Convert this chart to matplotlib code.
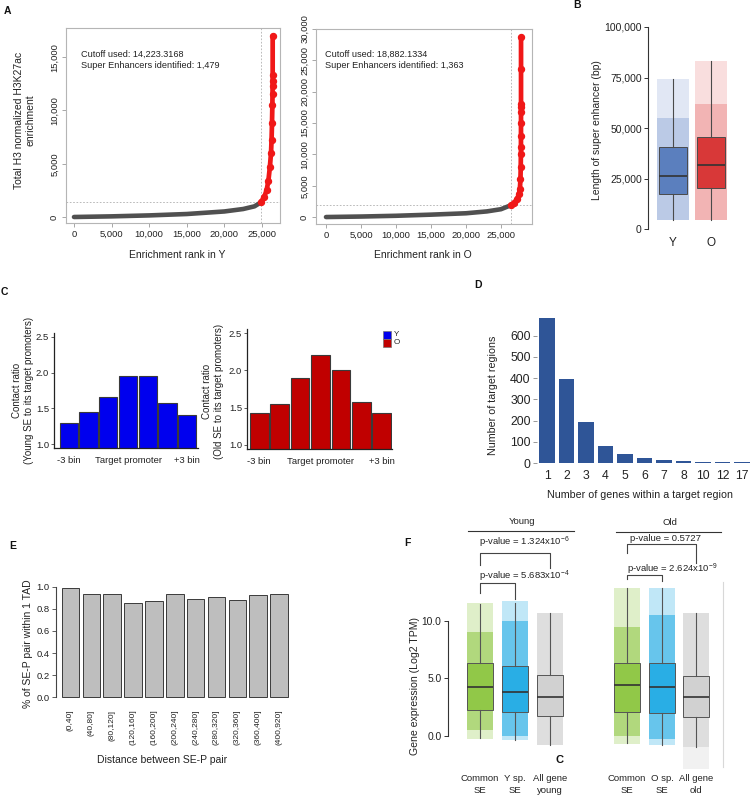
import matplotlib
matplotlib.use("Agg")
import matplotlib.pyplot as plt
from matplotlib.patches import Rectangle
from matplotlib.lines import Line2D
from matplotlib.ticker import FuncFormatter
from matplotlib.colors import to_rgba

plt.rcParams['font.family'] = ['Liberation Sans', 'DejaVu Sans']
plt.rcParams['mathtext.fontset'] = 'custom'
plt.rcParams['mathtext.rm'] = 'Liberation Sans'
plt.rcParams['mathtext.it'] = 'Liberation Sans:italic'
plt.rcParams['mathtext.bf'] = 'Liberation Sans:bold'

# ------------------------------------------------------------------ data
# Panel A (hockey-stick curves)
a_y_gray_rank = [0, 5000, 10000, 15000, 20000, 22500, 24000, 24870]
a_y_gray_val = [0, 60, 150, 280, 520, 750, 1000, 1380]
a_y_red_rank = [24870, 25300, 25610, 25850, 26050, 26200, 26270, 26330, 26380,
                26400, 26410, 26415, 26418, 26420]
a_y_red_val = [1420, 1900, 2500, 3400, 4700, 6000, 7200, 8800, 10500,
               11500, 12300, 12800, 13300, 17000]
a_y_cut_rank, a_y_cut_val = 24870, 1422
a_y_text = "Cutoff used: 14,223.3168\nSuper Enhancers identified: 1,479"

a_o_gray_rank = [0, 5000, 10000, 15000, 20000, 23000, 25000, 26430]
a_o_gray_val = [0, 80, 200, 380, 600, 900, 1250, 1890]
a_o_red_rank = [26430, 26900, 27300, 27550, 27700, 27780, 27820, 27840, 27850,
                27855, 27858, 27860, 27861, 27862, 27863, 27864]
a_o_red_val = [1890, 2300, 2900, 3600, 4500, 6000, 8000, 10000, 11100,
               13000, 15000, 16700, 17500, 18100, 23600, 28700]
a_o_cut_rank, a_o_cut_val = 26430, 1888
a_o_text = "Cutoff used: 18,882.1334\nSuper Enhancers identified: 1,363"

# Panel B (box summaries and point-cloud extent)
b_groups = ["Y", "O"]
b_q1 = [17300, 20300]
b_med = [26200, 31700]
b_q3 = [40600, 45500]
b_lo = [4300, 4500]
b_hi = [74500, 83000]
b_dense_hi = [55000, 62000]

# Panel C (contact ratio)
c_young = [1.30, 1.455, 1.665, 1.96, 1.95, 1.575, 1.40]
c_old = [1.425, 1.55, 1.90, 2.21, 2.00, 1.57, 1.43]
c_xlabels = ["-3 bin", "Target promoter", "+3 bin"]
c_legend = ["Y", "O"]

# Panel D
d_genes = ["1", "2", "3", "4", "5", "6", "7", "8", "10", "12", "17"]
d_counts = [684, 397, 192, 80, 41, 22, 13, 8, 5, 3, 3]

# Panel E
e_bins = ["(0,40]", "(40,80]", "(80,120]", "(120,160]", "(160,200]", "(200,240]",
          "(240,280]", "(280,320]", "(320,360]", "(360,400]", "(400,920]"]
e_frac = [0.985, 0.93, 0.93, 0.85, 0.873, 0.93, 0.889, 0.904, 0.88, 0.922, 0.937]

# Panel F
f_labels = ["Common\nSE", "Y sp.\nSE", "All gene\nyoung",
            "Common\nSE", "O sp.\nSE", "All gene\nold"]
f_q1 = [2.24, 2.07, 1.72, 2.10, 1.95, 1.63]
f_med = [4.28, 3.81, 3.40, 4.40, 4.28, 3.35]
f_q3 = [6.32, 6.11, 5.32, 6.37, 6.32, 5.24]
f_whislo = [-0.23, -0.37, -0.81, -0.66, -0.81, -0.96]
f_whishi = [11.5, 11.55, 10.68, 12.86, 12.86, 10.68]
f_cloud_lo = [-0.25, -0.4, -0.85, -0.7, -0.8, -2.9]
f_cloud_dlo = [0.5, 0.0, -0.85, 0.0, -0.3, -1.0]
f_cloud_dhi = [9.0, 10.0, 10.7, 9.5, 10.5, 10.7]
f_cloud_hi = [11.6, 11.7, 10.7, 12.9, 12.9, 10.7]
f_pvals = ["p-value = 1.324x10$^{-6}$", "p-value = 5.683x10$^{-4}$",
           "p-value = 0.5727", "p-value = 2.624x10$^{-9}$"]
f_groups = ["Young", "Old"]

# ------------------------------------------------------------------ figure
W, H = 750, 795
fig = plt.figure(figsize=(7.5, 7.95), dpi=100)


def fx(x):
    return x / W


def fy(y):
    return 1 - y / H


def add_ax(x0, y0, x1, y1):
    return fig.add_axes([fx(x0), fy(y1), (x1 - x0) / W, (y1 - y0) / H])


def ftext(x, y, s, **kw):
    kw.setdefault('ha', 'center')
    kw.setdefault('va', 'center')
    fig.text(fx(x), fy(y), s, **kw)


comma = FuncFormatter(lambda v, p: f"{v:,.0f}")

# ------------------------------------------------------------------ panel A
def panel_a(ax, gr, gv, rr, rv, crank, cval, xlim, ylim, yticks):
    ax.set_xlim(*xlim)
    ax.set_ylim(*ylim)
    ax.axhline(cval, color='#b0b0b0', lw=0.6, ls=(0, (2, 2)), zorder=1)
    ax.axvline(crank, color='#b0b0b0', lw=0.6, ls=(0, (2, 2)), zorder=1)
    ax.plot(gr, gv, color='#505050', lw=3.3, solid_capstyle='round',
            solid_joinstyle='round', zorder=2)
    ax.plot(rr, rv, color='#f01818', lw=3.4, solid_capstyle='round',
            solid_joinstyle='round', zorder=3)
    ax.plot(rr, rv, ls='none', marker='o', ms=4.3,
            mec='#f01818', mfc='#f01818', zorder=3)
    ax.set_xticks([0, 5000, 10000, 15000, 20000, 25000])
    ax.set_yticks(yticks)
    ax.xaxis.set_major_formatter(comma)
    ax.yaxis.set_major_formatter(comma)
    for s in ax.spines.values():
        s.set_color('#b5b5b5')
        s.set_linewidth(0.8)
    ax.tick_params(direction='out', length=3, width=0.6, color='#999999',
                   labelsize=6.8, labelcolor='#222222', pad=2)
    for t in ax.get_yticklabels():
        t.set_rotation(90)
        t.set_va('center')


axA1 = add_ax(66, 28, 280, 223)
panel_a(axA1, a_y_gray_rank, a_y_gray_val, a_y_red_rank, a_y_red_val,
        a_y_cut_rank, a_y_cut_val, (-1064, 27394), (-563, 17730),
        [0, 5000, 10000, 15000])
axA2 = add_ax(316, 29, 532, 224)
panel_a(axA2, a_o_gray_rank, a_o_gray_val, a_o_red_rank, a_o_red_val,
        a_o_cut_rank, a_o_cut_val, (-1430, 29430), (-1111, 29841),
        [0, 5000, 10000, 15000, 20000, 25000, 30000])

ftext(81, 60, a_y_text, ha='left', fontsize=6.6, linespacing=1.35, color='#222')
ftext(325, 60, a_o_text, ha='left', fontsize=6.6, linespacing=1.35, color='#222')
ftext(177, 255, "Enrichment rank in Y", fontsize=7.5, color='#222')
ftext(423, 255, "Enrichment rank in O", fontsize=7.5, color='#222')
ftext(25, 120, "Total H3 normalized H3K27ac\nenrichment", rotation=90,
      fontsize=7.5, linespacing=1.15, color='#222')

# ------------------------------------------------------------------ panel B
axB = add_ax(648, 27, 735, 229)
axB.set_xlim(0.34, 2.63)
axB.set_ylim(0, 100000)
b_cols = ['#4a72b8', '#d42222']
b_pt = ['#5b7fc4', '#e04a4a']
for i in range(2):
    x = i + 1
    axB.fill_between([x - 0.43, x + 0.43], b_lo[i], b_hi[i], color=b_pt[i],
                     alpha=0.18, lw=0, zorder=1)
    axB.fill_between([x - 0.43, x + 0.43], b_lo[i], b_dense_hi[i], color=b_pt[i],
                     alpha=0.28, lw=0, zorder=1)
b_stats = [dict(med=b_med[i], q1=b_q1[i], q3=b_q3[i], whislo=b_lo[i],
                whishi=b_hi[i], fliers=[]) for i in range(2)]
bp = axB.bxp(b_stats, positions=[1, 2], widths=0.74, patch_artist=True,
             showcaps=False, showfliers=False,
             boxprops=dict(edgecolor='#4a4a4a', lw=0.7),
             whiskerprops=dict(color='#4a4a4a', lw=0.8),
             medianprops=dict(color='#333333', lw=1.2))
for p, c in zip(bp['boxes'], b_cols):
    p.set_facecolor(to_rgba(c, 0.85))
    p.set_zorder(2)
for k in ('top', 'right', 'bottom'):
    axB.spines[k].set_visible(False)
axB.spines['left'].set_color('#333')
axB.spines['left'].set_linewidth(0.8)
axB.set_yticks([0, 25000, 50000, 75000, 100000])
axB.yaxis.set_major_formatter(comma)
axB.set_xticks([1, 2])
axB.set_xticklabels(b_groups)
axB.tick_params(axis='y', length=3, width=0.7, color='#333', labelsize=7.5,
                labelcolor='#222', pad=1.5)
axB.tick_params(axis='x', length=0, labelsize=8.5, labelcolor='#222', pad=6)
ftext(597, 130, "Length of super enhancer (bp)", rotation=90, fontsize=7.5,
      color='#222')

# ------------------------------------------------------------------ panel C
def panel_c(ax, vals, color, xlim, ylim):
    ax.bar(range(len(vals)), vals, width=0.92, color=color, edgecolor='#3a3a3a',
           lw=0.8, zorder=2)
    ax.set_xlim(*xlim)
    ax.set_ylim(*ylim)
    for k in ('top', 'right'):
        ax.spines[k].set_visible(False)
    for k in ('left', 'bottom'):
        ax.spines[k].set_color('#222')
        ax.spines[k].set_linewidth(0.9)
    ax.set_yticks([1.0, 1.5, 2.0, 2.5])
    ax.yaxis.set_major_formatter(FuncFormatter(lambda v, p: f"{v:.1f}"))
    ax.set_xticks([0, 3, 6])
    ax.set_xticklabels(c_xlabels)
    ax.tick_params(axis='y', length=2.5, width=0.6, color='#444', labelsize=6.8,
                   labelcolor='#222', pad=1)
    ax.tick_params(axis='x', length=0, labelsize=6.8, labelcolor='#222', pad=6)


axC1 = add_ax(54, 333, 198, 448)
panel_c(axC1, c_young, '#0000ee', (-0.753, 6.55), (0.944, 2.556))
axC2 = add_ax(247, 329, 392, 449)
panel_c(axC2, c_old, '#c00000', (-0.597, 6.5), (0.946, 2.554))
ftext(23, 390, "Contact ratio\n(Young SE to its target promoters)", rotation=90,
      fontsize=7, linespacing=1.2, color='#222')
ftext(213, 391, "Contact ratio\n(Old SE to its target promoters)", rotation=90,
      fontsize=7, linespacing=1.2, color='#222')
for lab, col, y0 in zip(c_legend, ['#0000ee', '#c00000'], [330.7, 338.8]):
    fig.add_artist(Rectangle((fx(382.7), fy(y0 + 8)), 8 / W, 8 / H,
                             transform=fig.transFigure, facecolor=col,
                             edgecolor='#777', lw=0.5))
    ftext(393.5, y0 + 4, lab, ha='left', fontsize=5.8, color='#222')

# ------------------------------------------------------------------ panel D
axD = add_ax(537, 310, 750, 466)
axD.bar(range(1, len(d_counts) + 1), d_counts, width=0.82, color='#2f5597',
        zorder=2)
axD.set_xlim(0.487, 11.41)
axD.set_ylim(-14, 720)
for s in axD.spines.values():
    s.set_visible(False)
axD.set_yticks([0, 100, 200, 300, 400, 500, 600])
axD.set_xticks(range(1, len(d_genes) + 1))
axD.set_xticklabels(d_genes)
axD.tick_params(axis='y', length=3, width=0.6, color='#888', labelsize=8.8,
                labelcolor='#222', pad=1.5)
axD.tick_params(axis='x', length=0, labelsize=8.8, labelcolor='#222', pad=3)
ftext(640, 495, "Number of genes within a target region", fontsize=7.7,
      color='#222')
ftext(493, 395, "Number of target regions", rotation=90, fontsize=7.7,
      color='#222')

# ------------------------------------------------------------------ panel E
axE = add_ax(56, 580, 292, 700)
axE.bar(range(len(e_frac)), e_frac, width=0.84, color='#bebebe',
        edgecolor='#3a3a3a', lw=0.7, zorder=2)
axE.set_xlim(-0.695, 10.62)
axE.set_ylim(-0.0244, 1.0605)
for k in ('top', 'right', 'bottom'):
    axE.spines[k].set_visible(False)
axE.spines['left'].set_bounds(0, 1)
axE.spines['left'].set_color('#444')
axE.spines['left'].set_linewidth(0.8)
axE.set_yticks([0, 0.2, 0.4, 0.6, 0.8, 1.0])
axE.yaxis.set_major_formatter(FuncFormatter(lambda v, p: f"{v:.1f}"))
axE.set_xticks(range(len(e_bins)))
axE.set_xticklabels(e_bins, rotation=90, va='top', ha='center')
axE.tick_params(axis='y', length=3, width=0.6, color='#444', labelsize=6.8,
                labelcolor='#222', pad=1.5)
axE.tick_params(axis='x', length=0, labelsize=6, labelcolor='#222', pad=7)
ftext(162, 760, "Distance between SE-P pair", fontsize=7.5, color='#222')
ftext(28, 644, "% of SE-P pair within 1 TAD", rotation=90, fontsize=7.5,
      color='#222')

# ------------------------------------------------------------------ panel F
axF = add_ax(447.7, 515, 723, 770)
f_pos = [1, 2, 3, 5.2, 6.2, 7.17]
f_cols = ['#8cc63f', '#1eaae4', '#cfcfcf', '#8cc63f', '#1eaae4', '#cfcfcf']
axF.set_xlim(0.077, 7.943)
axF.set_ylim(-2.99, 19.24)
for i, x in enumerate(f_pos):
    axF.fill_between([x - 0.38, x + 0.38], f_cloud_lo[i], f_cloud_hi[i],
                     color=f_cols[i], alpha=0.28, lw=0, zorder=1)
    axF.fill_between([x - 0.38, x + 0.38], f_cloud_dlo[i], f_cloud_dhi[i],
                     color=f_cols[i], alpha=0.55, lw=0, zorder=1)
f_stats = [dict(med=f_med[i], q1=f_q1[i], q3=f_q3[i], whislo=f_whislo[i],
                whishi=f_whishi[i], fliers=[]) for i in range(len(f_pos))]
bpf = axF.bxp(f_stats, positions=f_pos, widths=0.75, patch_artist=True,
              showcaps=False, showfliers=False,
              boxprops=dict(edgecolor='#555555', lw=0.7),
              whiskerprops=dict(color='#555555', lw=0.8),
              medianprops=dict(color='#333333', lw=1.2))
for p, c in zip(bpf['boxes'], f_cols):
    p.set_facecolor(to_rgba(c, 0.85))
    p.set_zorder(2)
for k in ('top', 'right', 'bottom'):
    axF.spines[k].set_visible(False)
axF.spines['left'].set_bounds(0, 10)
axF.spines['left'].set_color('#333')
axF.spines['left'].set_linewidth(0.8)
axF.set_yticks([0, 5, 10])
axF.yaxis.set_major_formatter(FuncFormatter(lambda v, p: f"{v:.1f}"))
axF.set_xticks(f_pos)
axF.set_xticklabels(f_labels, linespacing=1.35)
axF.tick_params(axis='y', length=3, width=0.7, color='#333', labelsize=7.4,
                labelcolor='#222', pad=1.5)
axF.tick_params(axis='x', length=0, labelsize=6.8, labelcolor='#222', pad=3)

brackets = [  # x_left, x_right, y_top, y_left_end, y_right_end
    (f_pos[0], f_pos[2], 15.90, 14.88, 14.59),
    (f_pos[0], f_pos[1], 13.29, 12.41, 11.92),
    (f_pos[3], f_pos[5], 16.71, 15.95, 15.03),
    (f_pos[3], f_pos[4], 14.01, 13.64, 13.51),
]
text_xy = [(0.98, 16.83), (0.98, 13.92), (5.28, 17.15), (5.2, 14.51)]
for (xl, xr, yt, yl, yr), (tx, ty), s in zip(brackets, text_xy, f_pvals):
    axF.plot([xl, xl, xr, xr], [yl, yt, yt, yr], color='#444', lw=0.8,
             clip_on=False)
    axF.text(tx, ty, s, ha='left', va='center', fontsize=6.8, color='#222')
for (x0, x1, yl, tx, ty), g in zip([(0.666, 3.69, 17.87, 2.2, 18.66),
                                     (4.89, 7.9, 17.79, 6.44, 18.57)], f_groups):
    axF.plot([x0, x1], [yl, yl], color='#333', lw=0.8, clip_on=False)
    axF.text(tx, ty, g, ha='center', va='center', fontsize=6.8, color='#222')
fig.add_artist(Line2D([fx(723), fx(723)], [fy(582), fy(767)],
                      transform=fig.transFigure, color='#d8d8d8', lw=0.8))
ftext(415, 686, "Gene expression (Log2 TPM)", rotation=90, fontsize=7.6,
      color='#222')
ftext(560, 760, "C", fontsize=8, fontweight='bold', color='#111')

# ------------------------------------------------------------------ panel letters
for lab, x, y in [("A", 7, 11), ("B", 577, 5), ("C", 4, 292), ("D", 478, 285),
                  ("E", 13, 546), ("F", 407, 543)]:
    ftext(x, y, lab, fontsize=7.5, fontweight='bold', color='#111')

fig.savefig("out.png", dpi=100)
